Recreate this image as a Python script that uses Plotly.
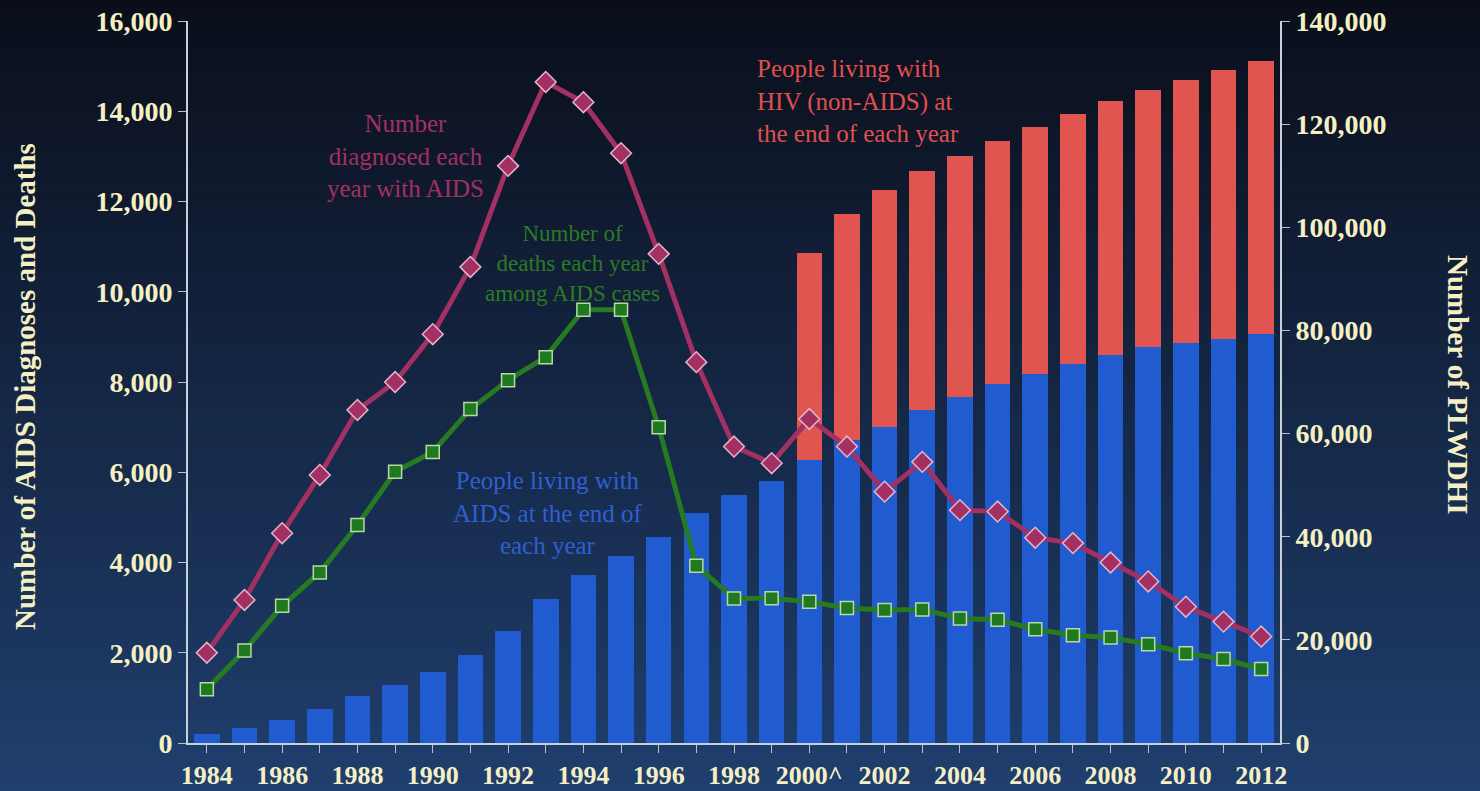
import plotly.graph_objects as go

years = list(range(1984, 2013))
tick_text = [str(y) if y % 2 == 0 else "" for y in years]
tick_text[years.index(2000)] = "2000^"

# People living with AIDS at end of each year (right axis)
living_aids = [1800, 2830, 4460, 6590, 9110, 11170, 13750, 16990, 21720, 27860,
               32580, 36260, 39950, 44600, 48090, 50800, 54870, 58750, 61270, 64570,
               67090, 69610, 71550, 73490, 75240, 76790, 77560, 78340, 79310]
# People living with HIV (non-AIDS) at end of each year (stacked on top, from 2000)
living_hiv_nonaids = [0]*16 + [40140, 43830, 45960, 46340, 46730, 47120, 47890, 48470,
                               49240, 49830, 51000, 52150, 52930]
# Number diagnosed each year with AIDS (left axis)
diagnosed = [2000, 3170, 4650, 5940, 7380, 8000, 9060, 10550, 12790, 14650,
             14200, 13070, 10840, 8440, 6570, 6200, 7180, 6570, 5570, 6230,
             5160, 5130, 4550, 4430, 4000, 3580, 3020, 2690, 2360]
# Number of deaths each year among AIDS cases (left axis)
deaths = [1190, 2050, 3040, 3780, 4830, 6010, 6450, 7400, 8040, 8550,
          9600, 9600, 7000, 3930, 3200, 3210, 3130, 2990, 2950, 2960,
          2760, 2730, 2520, 2390, 2340, 2190, 1990, 1860, 1640]

L, R, T, B = 188, 200, 21, 48
W, H = 1480, 791
PW, PH = W - L - R, H - T - B

def px_x(p):
    return (p - L) / PW

def px_y(p):
    return (H - B - p) / PH

fig = go.Figure()

fig.add_trace(go.Bar(x=years, y=living_aids, marker=dict(color="#215bd0", line=dict(width=0)),
                     name="People living with AIDS", yaxis="y"))
fig.add_trace(go.Bar(x=years, y=living_hiv_nonaids, marker=dict(color="#e0554f", line=dict(width=0)),
                     name="People living with HIV (non-AIDS)", yaxis="y"))
fig.add_trace(go.Scatter(x=years, y=diagnosed, yaxis="y2", mode="lines+markers",
                         line=dict(color="#a33062", width=5),
                         marker=dict(symbol="diamond", size=16, color="#a33062",
                                     line=dict(color="#e6b4cc", width=1.5)),
                         name="Diagnosed"))
fig.add_trace(go.Scatter(x=years, y=deaths, yaxis="y2", mode="lines+markers",
                         line=dict(color="#267a22", width=5),
                         marker=dict(symbol="square", size=13, color="#1f7a1f",
                                     line=dict(color="#b8d8a8", width=1.5)),
                         name="Deaths"))

# gradient background strips
shapes = []
N = 60
top = (10, 14, 26)
bot = (31, 63, 110)
y0p, y1p = -B / PH - 0.01, 1 + T / PH + 0.01
for i in range(N):
    f = i / (N - 1)
    c = tuple(int(round(top[k] + (bot[k] - top[k]) * f)) for k in range(3))
    ya = y1p - (y1p - y0p) * i / N
    yb = y1p - (y1p - y0p) * (i + 1) / N
    shapes.append(dict(type="rect", xref="paper", yref="paper", x0=-L / PW - 0.01, x1=1 + R / PW + 0.01,
                       y0=yb - 0.002, y1=ya + 0.002, fillcolor="rgb(%d,%d,%d)" % c,
                       line=dict(width=0), layer="below"))

serif = "Liberation Serif"
cream = "#f5f0c4"
tickfont = dict(family=serif, size=28, color=cream, weight="bold")

def note(text, cx, cy, size, color, xanchor="center", align="center", angle=0, weight="normal"):
    return dict(text=text, x=px_x(cx), y=px_y(cy), xref="paper", yref="paper", showarrow=False,
                xanchor=xanchor, yanchor="middle", align=align, textangle=angle,
                font=dict(family=serif, size=size, color=color, weight=weight))

annotations = [
    note("Number of AIDS Diagnoses and Deaths", 25, 387, 29, cream, angle=-90, weight="bold"),
    note("Number of PLWDHI", 1458, 384, 29, cream, angle=90, weight="bold"),
    note("Number<br>diagnosed each<br>year with AIDS", 405, 156, 25, "#a33062"),
    note("Number of<br>deaths each year<br>among AIDS cases", 572, 263, 23, "#2b7a25"),
    note("People living with<br>AIDS at the end of<br>each year", 548, 513, 25, "#2f5fd0"),
    note("People living with<br>HIV (non-AIDS) at<br>the end of each year", 755, 101, 25, "#e0504c",
         xanchor="left", align="left"),
]

axis_common = dict(ticks="outside", ticklen=8, tickcolor="#b8c0cc", showgrid=False, zeroline=False,
                   showline=True, linecolor="#c8d0dc", linewidth=2, automargin=False)

fig.update_layout(
    width=W, height=H,
    margin=dict(l=L, r=R, t=T, b=B, pad=0, autoexpand=False),
    paper_bgcolor="#142a4c",
    plot_bgcolor="#dde4f6",
    barmode="stack",
    bargap=0.32,
    showlegend=False,
    shapes=shapes,
    annotations=annotations,
    xaxis=dict(range=[1983.5, 2012.5], tickmode="array", tickvals=years, ticktext=tick_text,
               tickfont=dict(family=serif, size=26, color=cream, weight="bold"), **axis_common),
    yaxis=dict(range=[0, 140000], side="right", tickvals=list(range(0, 140001, 20000)),
               tickformat=",d", tickfont=tickfont, **axis_common),
    yaxis2=dict(range=[0, 16000], side="left", overlaying="y", tickvals=list(range(0, 16001, 2000)),
                tickformat=",d", tickfont=tickfont, **axis_common),
)

fig.write_html("out.html", config={"displayModeBar": False},
               post_script="document.body.style.margin='0';document.body.style.overflow='hidden';")
